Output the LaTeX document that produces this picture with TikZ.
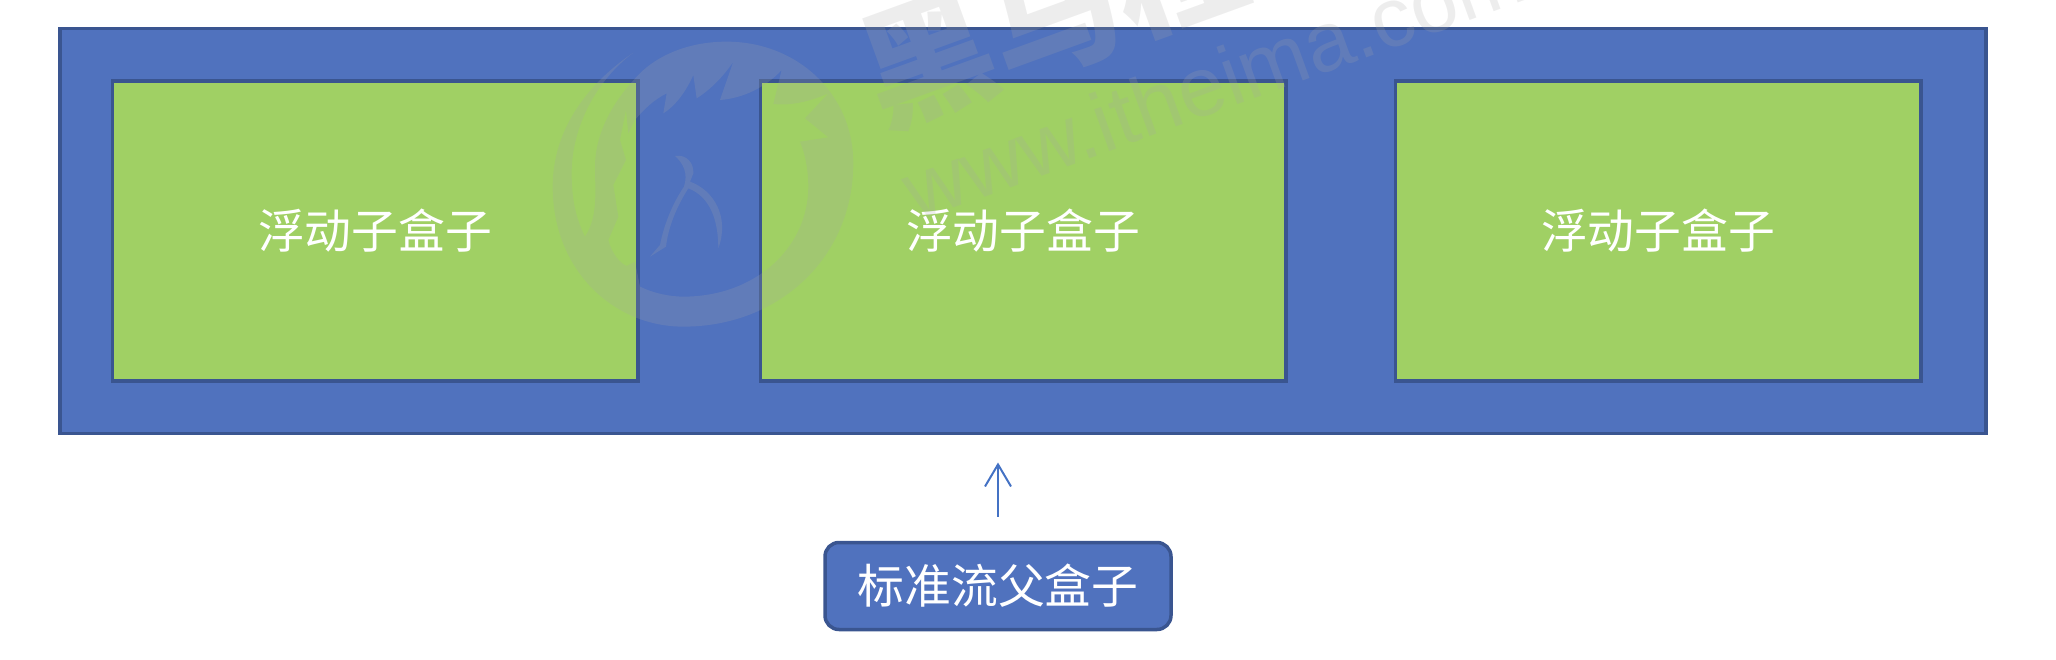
\documentclass[tikz,border=0pt]{standalone}
\usepackage{fontspec}
\newfontfamily\cjk{Noto Sans CJK SC}
\newfontfamily\wmfont{Liberation Sans}
\usetikzlibrary{arrows.meta}
\definecolor{boxblue}{HTML}{5072BE}
\definecolor{edgeblue}{HTML}{3A5590}
\definecolor{arrowblue}{HTML}{4472C4}
\definecolor{boxgreen}{HTML}{A0D064}
\definecolor{wmgray}{HTML}{A7A7A7}
\newcommand{\lowered}[1]{\raisebox{-1.2pt}{#1}}
\tikzset{
  box/.style={draw=edgeblue,line width=3.5pt,inner sep=0pt,text=white,font=\cjk\fontsize{46.8}{50}\selectfont},
  outerbox/.style={box,fill=boxblue,minimum width=1926pt,minimum height=405pt},
  floatbox/.style={box,fill=boxgreen,minimum width=525.5pt,minimum height=300pt},
  parentbox/.style={box,fill=boxblue,rounded corners=14pt,minimum width=346pt,minimum height=87pt},
  uparrow/.style={draw=arrowblue,line width=2pt,-{Straight Barb[length=22pt,width=26pt,line width=2pt]}},
  wm/.style={fill=wmgray,fill opacity=.2,draw=none},
  wmtext/.style={text=wmgray,text opacity=.2,inner sep=0pt,rotate=20,anchor=base west}
}
\begin{document}
\begin{tikzpicture}[x=1pt,y=-1pt]
\useasboundingbox (0,0) rectangle (2056,660);
\node[outerbox] (outer) at (1023,231) {};
\node[floatbox] (f1) at (375,231) {\lowered{浮动子盒子}};
\node[floatbox] (f2) at (1023,231) {\lowered{浮动子盒子}};
\node[floatbox] (f3) at (1658,231) {\lowered{浮动子盒子}};
\node[parentbox] (parent) at (998,586) {\lowered{标准流父盒子}};
\coordinate (tip) at (998,462.5);
\draw[uparrow,shorten <=24pt] (parent.north) -- (tip);
\begin{scope}
\clip (0,0) rectangle (2056,660);
\node[wmtext,font=\cjk\bfseries\fontsize{132}{132}\selectfont] (wmcn) at (882,128) {黑马程序员};
\node[wmtext,font=\wmfont\fontsize{84}{84}\selectfont] (wmen) at (916,222) {www.itheima.com};
\end{scope}
\begin{scope}[shift={(540,30)},x=.3333pt,y=-.3333pt]
\path[wm,even odd rule]
  (280,68) .. controls (130,170) and (38,310) .. (38,470)
  .. controls (38,720) and (220,890) .. (430,890)
  .. controls (720,890) and (940,680) .. (940,400)
  .. controls (940,190) and (770,35) .. (560,35)
  .. controls (440,35) and (350,80) .. (300,130)
  .. controls (220,210) and (165,310) .. (165,410)
  .. controls (165,480) and (175,560) .. (135,620)
  .. controls (105,560) and (95,500) .. (95,430)
  .. controls (95,290) and (170,150) .. (280,68) -- cycle
  (258,240) -- (240,330) -- (258,390) -- (220,465) -- (235,560) -- (205,630)
  .. controls (215,670) and (240,700) .. (260,708)
  -- (285,695) -- (300,770)
  .. controls (340,790) and (390,800) .. (430,800)
  .. controls (650,800) and (805,650) .. (805,470)
  .. controls (805,420) and (795,370) .. (780,335)
  -- (865,322) -- (795,265) -- (865,190)
  .. controls (810,215) and (750,228) .. (700,222)
  -- (725,120) .. controls (680,170) and (610,205) .. (540,210)
  -- (580,95) .. controls (550,140) and (510,180) .. (470,205)
  -- (460,135) .. controls (440,180) and (410,225) .. (370,250)
  -- (380,190) .. controls (340,210) and (310,240) .. (285,270)
  -- (265,310) -- cycle;
\path[wm]
  (405,378) .. controls (440,372) and (462,400) .. (460,430)
  -- (450,455) .. controls (520,480) and (570,560) .. (535,655)
  .. controls (535,570) and (510,500) .. (445,475)
  .. controls (410,530) and (385,590) .. (378,650)
  -- (330,680) -- (360,645)
  .. controls (375,570) and (405,510) .. (432,470)
  .. controls (445,430) and (430,400) .. (405,378) -- cycle;
\end{scope}
\end{tikzpicture}
\end{document}
